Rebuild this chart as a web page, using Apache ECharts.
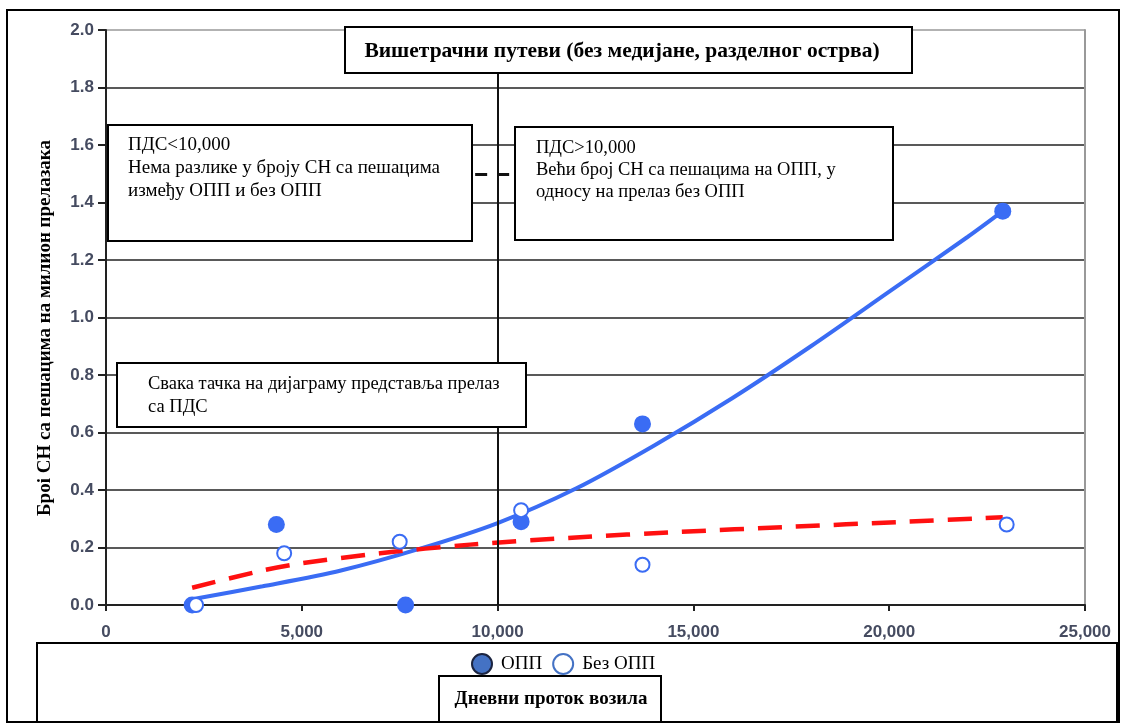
<!DOCTYPE html>
<html lang="sr">

<head>
    <meta charset="UTF-8">
    <title>pds</title>
    <style>
        html,
        body {
            margin: 0;
            padding: 0;
            background: #fff;
        }
    </style>
</head>

<body>
    <div id="show" style="width: 1129px; height: 727px;"></div>

    <script src="https://cdn.jsdelivr.net/npm/echarts@6/dist/echarts.min.js"></script>
    <script>
        // тачке: ОПП (пуне) и без ОПП (празне)
        var optX = [2200, 4350, 7650, 10600, 13700, 22900];
        var optY = [0, 0.28, 0, 0.29, 0.63, 1.37];
        var noX = [2300, 4550, 7500, 10600, 13700, 23000];
        var noY = [0, 0.18, 0.22, 0.33, 0.14, 0.28];

        // линије тренда, очитане са слике
        var blueX = [2200, 4000, 6000, 8000, 10000, 12000, 14000, 16000, 18000, 20000, 22000, 22900];
        var blueY = [0.02, 0.065, 0.12, 0.195, 0.285, 0.405, 0.555, 0.72, 0.9, 1.09, 1.28, 1.37];
        var redX = [2200, 4000, 5000, 7000, 9300, 12000, 14600, 17500, 20300, 22900];
        var redY = [0.06, 0.12, 0.145, 0.18, 0.21, 0.235, 0.254, 0.272, 0.289, 0.305];

        var xTicks = [0, 5000, 10000, 15000, 20000, 25000];

        function pairs(xs, ys) {
            return xs.map(function (x, i) { return [x, ys[i]]; });
        }

        var blue = '#3a6cf4';
        var serif = '"Liberation Serif", "Times New Roman", serif';
        var tickFont = {
            fontFamily: '"Liberation Sans", Arial, sans-serif',
            fontSize: 17,
            fontWeight: 'bold',
            color: '#454b60'
        };

        function box(x, y, w, h) {
            return {
                type: 'rect', z: 50,
                shape: { x: x, y: y, width: w, height: h },
                style: { fill: '#fff', stroke: '#000', lineWidth: 2 }
            };
        }
        function label(x, y, text, opts) {
            opts = opts || {};
            return {
                type: 'text', z: 51, x: x, y: y,
                rotation: opts.rotation || 0,
                style: {
                    text: text,
                    fontFamily: serif,
                    fontSize: opts.size || 19,
                    fontWeight: opts.bold ? 'bold' : 'normal',
                    lineHeight: opts.lh || 22,
                    fill: '#000',
                    align: opts.align || 'left',
                    verticalAlign: opts.va || 'top'
                }
            };
        }

        var chart = echarts.init(document.getElementById('show'));

        chart.setOption({
            animation: false,
            backgroundColor: '#fff',
            grid: { left: 106, right: 44, top: 30, bottom: 122 },
            xAxis: {
                type: 'value', min: 0, max: 25000, interval: 5000,
                axisLine: { lineStyle: { color: '#222', width: 2 } },
                axisTick: { length: 6, lineStyle: { color: '#222', width: 2 } },
                splitLine: { show: false },
                axisLabel: Object.assign({
                    margin: 19,
                    formatter: function (v) {
                        return xTicks.indexOf(v) >= 0 ? v.toLocaleString('en-US') : '';
                    }
                }, tickFont)
            },
            yAxis: [{
                type: 'value', min: 0, max: 2, interval: 0.2,
                axisLine: { show: true, lineStyle: { color: '#222', width: 2 } },
                axisTick: { show: true, length: 8, lineStyle: { color: '#222', width: 2 } },
                splitLine: {
                    lineStyle: {
                        width: 1.6,
                        color: ['#222', '#222', '#222', '#222', '#222', '#222', '#222', '#222', '#222', '#222', '#999']
                    }
                },
                axisLabel: Object.assign({
                    margin: 12,
                    formatter: function (v) { return v.toFixed(1); }
                }, tickFont)
            }, {
                type: 'value', min: 0, max: 2, position: 'right',
                axisLine: { show: true, lineStyle: { color: '#999', width: 2 } },
                axisTick: { show: false }, axisLabel: { show: false }, splitLine: { show: false }
            }],
            legend: {
                left: 471, top: 653, padding: 0,
                itemWidth: 20, itemHeight: 20, itemGap: 10,
                textStyle: { fontFamily: serif, fontSize: 19, color: '#000', padding: [0, 0, 0, 4] },
                data: [
                    { name: 'ОПП', icon: 'circle', itemStyle: { color: '#4472c4', borderColor: '#1b2440', borderWidth: 2 } },
                    { name: 'Без ОПП', icon: 'circle', itemStyle: { color: '#fff', borderColor: '#4472c4', borderWidth: 2 } }
                ]
            },
            series: [{
                name: 'trendBlue',
                type: 'line', smooth: 0.3, showSymbol: false, z: 3,
                data: pairs(blueX, blueY),
                lineStyle: { color: blue, width: 4 },
                markLine: {
                    silent: true, symbol: 'none', label: { show: false },
                    data: [
                        [{ coord: [10000, 0], lineStyle: { color: '#111', width: 2, type: 'solid' } }, { coord: [10000, 2] }],
                        [{ coord: [1000, 1.5], lineStyle: { color: '#111', width: 3, type: [12, 10] } }, { coord: [12000, 1.5] }]
                    ]
                }
            }, {
                name: 'trendRed',
                type: 'line', smooth: 0.3, showSymbol: false, z: 3,
                data: pairs(redX, redY),
                lineStyle: { color: '#ff1010', width: 4.5, type: [24, 14] }
            }, {
                name: 'ОПП',
                type: 'scatter', symbol: 'circle', symbolSize: 17, z: 4,
                data: pairs(optX, optY),
                itemStyle: { color: blue, opacity: 1 }
            }, {
                name: 'Без ОПП',
                type: 'scatter', symbol: 'circle', symbolSize: 14, z: 4,
                data: pairs(noX, noY),
                itemStyle: { color: '#fff', borderColor: blue, borderWidth: 2, opacity: 1 }
            }],
            graphic: [
                // спољни оквир
                {
                    type: 'rect', z: 0, silent: true,
                    shape: { x: 7, y: 10, width: 1112, height: 712 },
                    style: { fill: 'none', stroke: '#000', lineWidth: 2 }
                },
                {
                    type: 'rect', z: 1, silent: true,
                    shape: { x: 37, y: 643, width: 1080, height: 79 },
                    style: { fill: 'none', stroke: '#000', lineWidth: 2 }
                },
                box(439, 676, 222, 46),
                label(551, 699, 'Дневни проток возила', { bold: true, align: 'center', va: 'middle' }),

                box(345, 27, 567, 46),
                label(622, 51, 'Вишетрачни путеви (без медијане, разделног острва)', { bold: true, size: 21.5, align: 'center', va: 'middle' }),

                box(108, 125, 364, 116),
                label(128, 134, 'ПДС<10,000\nНема разлике у броју СН са пешацима\nизмеђу ОПП и без ОПП', { lh: 23 }),

                box(515, 127, 378, 113),
                label(536, 137, 'ПДС>10,000\nВећи број СН са пешацима на ОПП, у\nодносу на прелаз без ОПП', { size: 18.5 }),

                box(117, 363, 409, 64),
                label(148, 373, 'Свака тачка на дијаграму представља прелаз\nса ПДС', { size: 18.5, lh: 23 }),

                label(45, 328, 'Броі СН са пешацима на милион прелазака', { bold: true, align: 'center', va: 'middle', rotation: Math.PI / 2 })
            ]
        });
    </script>
</body>

</html>
